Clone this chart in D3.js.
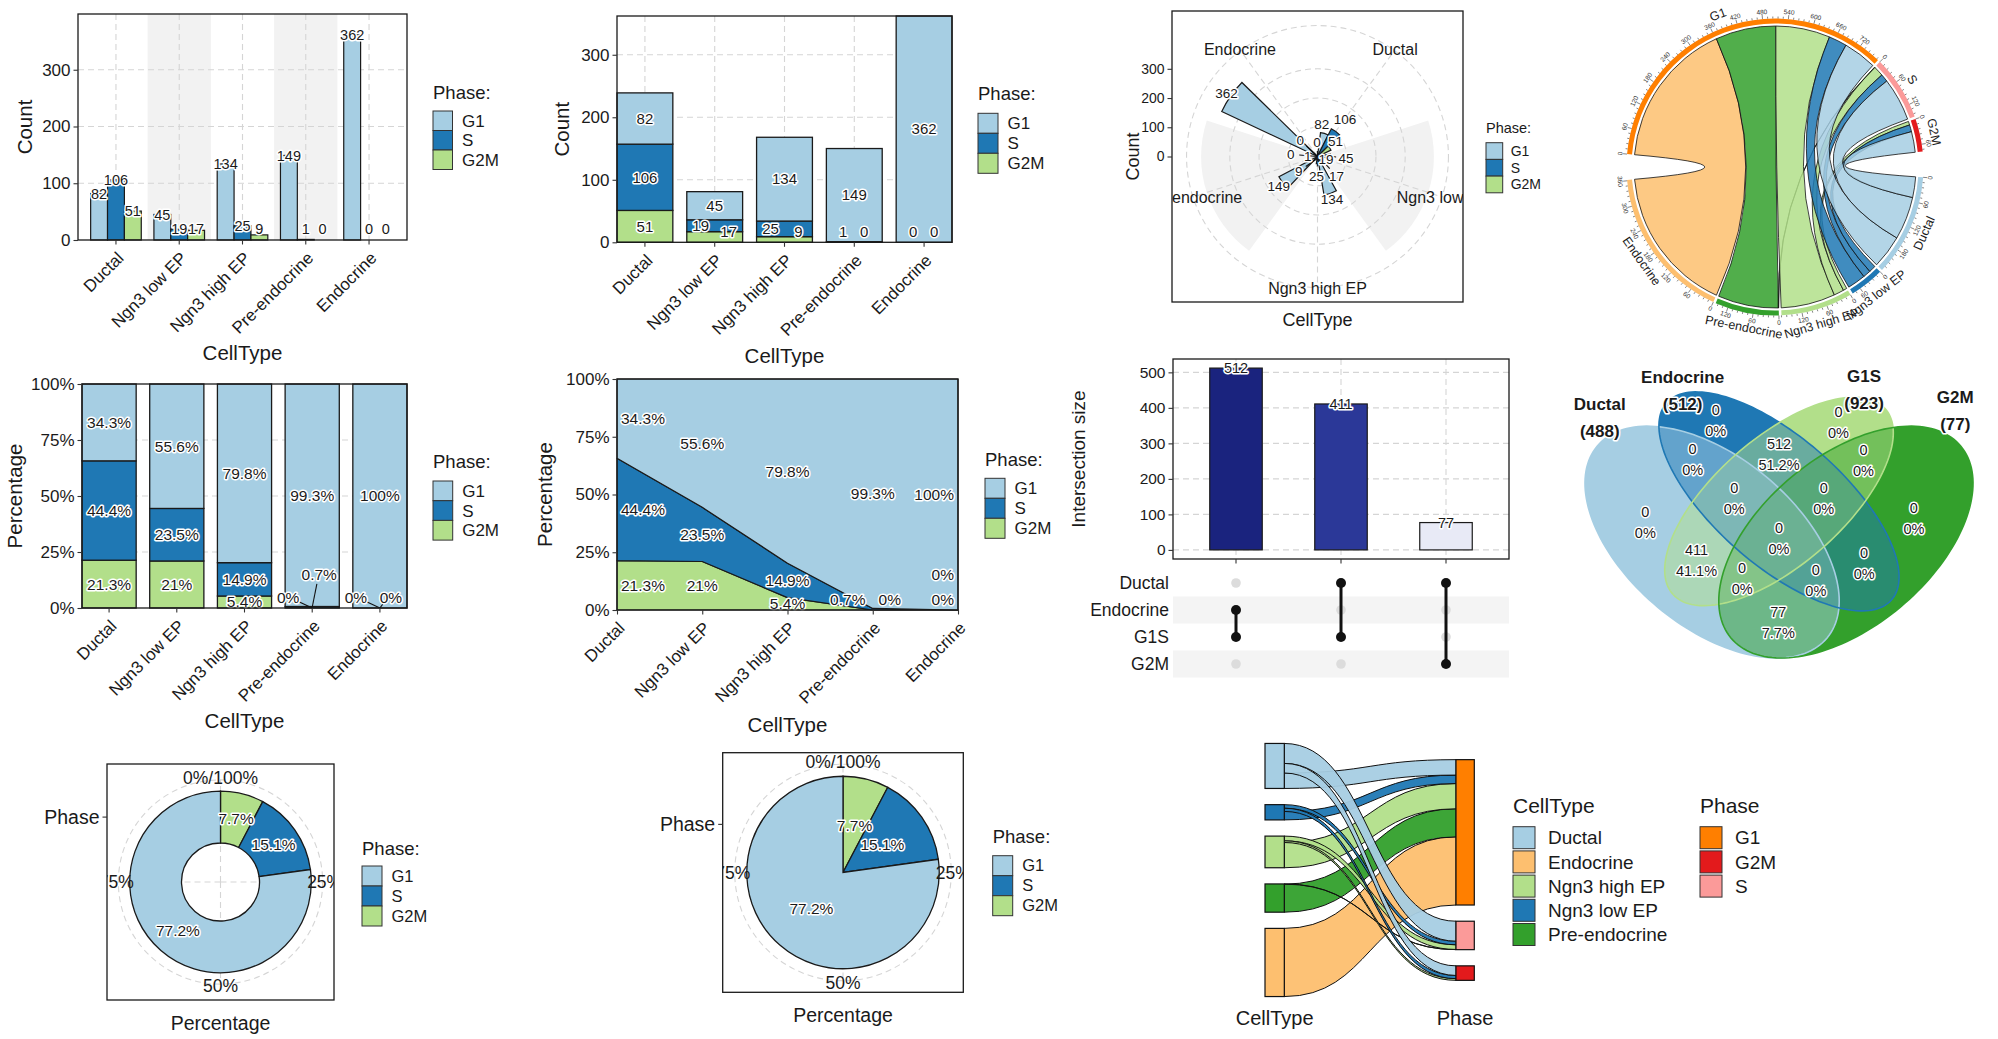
<!DOCTYPE html>
<html>
<head>
<meta charset="utf-8">
<script src="https://cdn.jsdelivr.net/npm/d3@7"></script>
<style>
html,body{margin:0;padding:0;background:#fff;}
svg{display:block;}
.grid{stroke:#d5d5d5;stroke-width:1.1;stroke-dasharray:6 4;fill:none;}
</style>
</head>
<body>
<svg id="chart" width="1998" height="1039" xmlns="http://www.w3.org/2000/svg"></svg>
<script>
// ======================= DATA =======================
const cellTypes = ["Ductal", "Ngn3 low EP", "Ngn3 high EP", "Pre-endocrine", "Endocrine"];
const phases = ["G1", "S", "G2M"];
const countG1 = [82, 45, 134, 149, 362];
const countS = [106, 19, 25, 1, 0];
const countG2M = [51, 17, 9, 0, 0];
const countTicks = [0, 100, 200, 300];
const percentTicks = [0, 25, 50, 75, 100];
const ringTickLabels = ["0%/100%", "25%", "50%", "75%"];

const upsetSets = ["Ductal", "Endocrine", "G1S", "G2M"];
const upsetSizes = [512, 411, 77];
const upsetMembers = [["Endocrine", "G1S"], ["Ductal", "G1S"], ["Ductal", "G2M"]];
const upsetTicks = [0, 100, 200, 300, 400, 500];

const vennSets = ["Ductal", "Endocrine", "G1S", "G2M"];
const vennRegionSets = ["Ductal", "Endocrine", "G1S", "G2M",
  "Ductal&Endocrine", "Ductal&G1S", "Ductal&G2M", "Endocrine&G1S", "Endocrine&G2M", "G1S&G2M",
  "Ductal&Endocrine&G1S", "Ductal&Endocrine&G2M", "Ductal&G1S&G2M", "Endocrine&G1S&G2M",
  "Ductal&Endocrine&G1S&G2M"];
const vennRegionCounts = [0, 0, 0, 0, 0, 411, 77, 512, 0, 0, 0, 0, 0, 0, 0];

const sankeyCellLegend = ["Ductal", "Endocrine", "Ngn3 high EP", "Ngn3 low EP", "Pre-endocrine"];
const sankeyPhaseLegend = ["G1", "G2M", "S"];

// colours
const phaseFill = ["#A6CEE3", "#1F78B4", "#B2DF8A"];           // G1, S, G2M
const cellColors = {"Ductal": "#A6CEE3", "Endocrine": "#FDBF6F", "Ngn3 high EP": "#B2DF8A",
                    "Ngn3 low EP": "#1F78B4", "Pre-endocrine": "#33A02C"};
const phaseColors = {"G1": "#FF7F00", "S": "#FB9A99", "G2M": "#E31A1C"};
const vennColors = ["#A6CEE3", "#1F78B4", "#B2DF8A", "#33A02C"];
const upsetRamp = ["#E8EAF6", "#3F51B5", "#1A237E"];

// ======================= HELPERS =======================
const byPhase = {G1: countG1, S: countS, G2M: countG2M};
const allCounts = countG1.concat(countS, countG2M);
const cellTot = cellTypes.map((c, i) => countG1[i] + countS[i] + countG2M[i]);
const phaseTot = phases.map(p => d3.sum(byPhase[p]));
const svg = d3.select("#chart");
const FONT = '"Liberation Sans", Arial, Helvetica, sans-serif';
const defs = svg.append("defs");

function fmtPct(f) {
  const r = Math.round(f * 1000) / 10;
  return (Number.isInteger(r) ? r : r.toFixed(1)) + "%";
}
function T(g, x, y, s, o = {}) {
  const t = g.append("text").attr("x", x).attr("y", y).text(s)
    .attr("font-family", FONT).attr("font-size", o.size || 17)
    .attr("fill", o.fill || "#1a1a1a").attr("text-anchor", o.anchor || "middle")
    .attr("dy", o.dy !== undefined ? o.dy : "0.35em");
  if (o.weight) t.attr("font-weight", o.weight);
  if (o.rotate) t.attr("transform", `rotate(${o.rotate},${x},${y})`);
  if (o.halo) t.attr("stroke", "#fff").attr("stroke-width", o.halo)
    .attr("stroke-linejoin", "round").attr("paint-order", "stroke");
  return t;
}
function gridLine(g, x1, y1, x2, y2) {
  return g.append("line").attr("x1", x1).attr("y1", y1).attr("x2", x2).attr("y2", y2).attr("class", "grid");
}
function frame(g, P) {
  g.append("rect").attr("x", P.x0).attr("y", P.y0).attr("width", P.x1 - P.x0).attr("height", P.y1 - P.y0)
    .attr("fill", "none").attr("stroke", "#1a1a1a").attr("stroke-width", 1.3);
}
function clipRect(id, P) {
  defs.append("clipPath").attr("id", id).append("rect").attr("x", P.x0).attr("y", P.y0)
    .attr("width", P.x1 - P.x0).attr("height", P.y1 - P.y0);
}
function axisLeft(g, scale, ticks, x, fmt, size) {
  const a = g.append("g").attr("transform", `translate(${x},0)`)
    .call(d3.axisLeft(scale).tickValues(ticks).tickSize(4.5).tickPadding(3).tickFormat(fmt || (d => d)));
  a.select(".domain").remove();
  a.selectAll(".tick line").attr("stroke", "#333").attr("stroke-width", 1.1);
  a.selectAll(".tick text").attr("font-family", FONT).attr("font-size", size || 17).attr("fill", "#1a1a1a");
  return a;
}
function axisBottomRot(g, scale, y, size) {
  const a = g.append("g").attr("transform", `translate(0,${y})`)
    .call(d3.axisBottom(scale).tickSize(4.5).tickFormat(""));
  a.select(".domain").remove();
  a.selectAll(".tick line").attr("stroke", "#333").attr("stroke-width", 1.1);
  scale.domain().forEach(d => {
    const px = scale.bandwidth ? scale(d) + scale.bandwidth() / 2 : scale(d);
    T(g, px, y + 10.5, d, {size: size || 17, anchor: "end", dy: "0.72em", rotate: -45});
  });
}
function legend(g, o) {
  const ks = o.key, fs = o.size || 17, ts = o.tsize || 18.5;
  T(g, o.x, o.base, o.title, {size: ts, anchor: "start", dy: 0});
  o.items.forEach((it, i) => {
    const yy = o.top + i * (ks + (o.gap || 0));
    g.append("rect").attr("x", o.x).attr("y", yy).attr("width", ks).attr("height", ks)
      .attr("fill", o.colors[i]).attr("stroke", "#333").attr("stroke-width", 1);
    T(g, o.x + ks + (o.lx || 9.5), yy + ks / 2, it, {size: fs, anchor: "start"});
  });
}

// ======================= PANEL 1 : dodged bars =======================
(function () {
  const P = {x0: 78, x1: 407, y0: 14, y1: 240};
  const g = svg.append("g");
  const x = d3.scaleBand().domain(cellTypes).range([P.x0, P.x1]).paddingInner(0).paddingOuter(0.1);
  const bw = x.bandwidth();
  const xi = d3.scaleBand().domain(phases).range([-0.4 * bw, 0.4 * bw]);
  const y = d3.scaleLinear().domain([0, d3.max(allCounts) * 1.1]).range([P.y1, P.y0]);
  cellTypes.forEach((c, i) => {
    if (i % 2 === 1) g.append("rect").attr("x", x(c)).attr("y", P.y0).attr("width", bw)
      .attr("height", P.y1 - P.y0).attr("fill", "#F2F2F2");
  });
  countTicks.slice(1).forEach(v => gridLine(g, P.x0, y(v), P.x1, y(v)));
  cellTypes.forEach(c => gridLine(g, x(c) + bw / 2, P.y0, x(c) + bw / 2, P.y1));
  cellTypes.forEach((c, i) => phases.forEach((p, j) => {
    const v = byPhase[p][i];
    g.append("rect").attr("x", x(c) + bw / 2 + xi(p)).attr("y", y(v)).attr("width", xi.bandwidth())
      .attr("height", y(0) - y(v)).attr("fill", phaseFill[j]).attr("stroke", "#1a1a1a").attr("stroke-width", 1.2);
  }));
  cellTypes.forEach((c, i) => phases.forEach(p => {
    const v = byPhase[p][i];
    T(g, x(c) + bw / 2 + xi(p) + xi.bandwidth() / 2, Math.min(y(v), P.y1 - 11), v, {size: 14.5, halo: 3});
  }));
  frame(g, P);
  axisLeft(g, y, countTicks, P.x0, null, 17);
  axisBottomRot(g, x, P.y1, 17);
  T(g, 25, (P.y0 + P.y1) / 2, "Count", {size: 20.5, rotate: -90});
  T(g, (P.x0 + P.x1) / 2, 353, "CellType", {size: 20.5});
  legend(g, {x: 433, title: "Phase:", base: 99, top: 111, key: 19.5, items: phases, colors: phaseFill});
})();

// ======================= PANEL 2 : stacked bars =======================
(function () {
  const P = {x0: 617, x1: 952, y0: 16, y1: 242.3};
  const g = svg.append("g");
  const x = d3.scaleBand().domain(cellTypes).range([P.x0, P.x1]).paddingInner(0.2).paddingOuter(0);
  const bw = x.bandwidth();
  const y = d3.scaleLinear().domain([0, d3.max(cellTot)]).range([P.y1, P.y0]);
  countTicks.slice(1).forEach(v => gridLine(g, P.x0, y(v), P.x1, y(v)));
  cellTypes.forEach(c => gridLine(g, x(c) + bw / 2, P.y0, x(c) + bw / 2, P.y1));
  const stackOrder = ["G2M", "S", "G1"];
  const labels = [];
  cellTypes.forEach((c, i) => {
    let cum = 0; const segs = [];
    stackOrder.forEach(p => {
      const v = byPhase[p][i];
      segs.push({p, v, y0: y(cum), y1: y(cum + v)});
      g.append("rect").attr("x", x(c)).attr("y", y(cum + v)).attr("width", bw).attr("height", y(cum) - y(cum + v))
        .attr("fill", phaseFill[phases.indexOf(p)]).attr("stroke", "#1a1a1a").attr("stroke-width", 1.3);
      cum += v;
    });
    const cx = x(c) + bw / 2;
    segs.slice().reverse().forEach(s => {
      const h = s.y0 - s.y1; let lx = cx, ly = (s.y0 + s.y1) / 2;
      if (h < 3) { lx = cx + (s.p === "S" ? -11 : 10); ly = P.y1 - 10.5; }
      else if (h < 16) { lx = cx + (s.p === "S" ? -14 : 14); ly = Math.min(ly, P.y1 - 10.5); }
      labels.push([lx, ly, s.v]);
    });
  });
  labels.forEach(l => T(g, l[0], l[1], l[2], {size: 15, halo: 3}));
  frame(g, P);
  axisLeft(g, y, countTicks, P.x0, null, 17);
  axisBottomRot(g, x, P.y1, 17);
  T(g, 562, (P.y0 + P.y1) / 2, "Count", {size: 20.5, rotate: -90});
  T(g, (P.x0 + P.x1) / 2, 356, "CellType", {size: 20.5});
  legend(g, {x: 978, title: "Phase:", base: 100, top: 113.3, key: 20, items: phases, colors: phaseFill});
})();

// ======================= PANEL 3 : polar (rose) =======================
(function () {
  const P = {x0: 1172, x1: 1463, y0: 11, y1: 302};
  const g = svg.append("g");
  const cx = (P.x0 + P.x1) / 2, cy = (P.y0 + P.y1) / 2, u = P.x1 - P.x0;
  const r = d3.scaleLinear().domain([0, d3.max(allCounts) * 1.1]).range([0, 0.4 * u]);
  const th = d3.scaleBand().domain(cellTypes).range([0, 2 * Math.PI]);
  const tb = th.bandwidth();
  const sub = d3.scaleBand().domain(phases).range([0.1 * tb, 0.9 * tb]);
  clipRect("clip3", P);
  const inner = g.append("g").attr("clip-path", "url(#clip3)");
  const c = inner.append("g").attr("transform", `translate(${cx},${cy})`);
  cellTypes.forEach((ct, i) => {
    if (i % 2 === 1) c.append("path").attr("d", d3.arc()({innerRadius: 0, outerRadius: 0.4 * u,
      startAngle: th(ct), endAngle: th(ct) + tb})).attr("fill", "#F2F2F2");
  });
  countTicks.slice(1).forEach(v => c.append("circle").attr("r", r(v)).attr("class", "grid"));
  c.append("circle").attr("r", 0.45 * u).attr("class", "grid");
  cellTypes.forEach(ct => {
    const a = th(ct) + tb / 2;
    gridLine(c, 0, 0, 0.45 * u * Math.sin(a), -0.45 * u * Math.cos(a));
  });
  const arc = d3.arc().innerRadius(0);
  cellTypes.forEach((ct, i) => phases.forEach((p, j) => {
    const v = byPhase[p][i]; if (!v) return;
    c.append("path").attr("d", arc({outerRadius: r(v), startAngle: th(ct) + sub(p),
      endAngle: th(ct) + sub(p) + sub.bandwidth()}))
      .attr("fill", phaseFill[j]).attr("stroke", "#1a1a1a").attr("stroke-width", 1.2);
  }));
  // repelled value labels (force layout)
  const lineG = c.append("g"), labG = c.append("g");
  const nodes = [];
  cellTypes.forEach((ct, i) => phases.forEach(p => {
    const v = byPhase[p][i];
    const a = th(ct) + sub(p) + sub.bandwidth() / 2;
    const tipR = r(v), rr = v ? tipR + 5 : 14;
    const t = T(labG, 0, 0, v, {size: 13.5, halo: 3});
    const w = t.node().getComputedTextLength();
    const tx = rr * Math.sin(a), ty = -rr * Math.cos(a);
    nodes.push({t, w, ax: tipR * Math.sin(a), ay: -tipR * Math.cos(a), tx, ty, x: tx, y: ty, rad: Math.max(w / 2 + 2.5, 8.5)});
  }));
  const sim = d3.forceSimulation(nodes)
    .force("x", d3.forceX(d => d.tx).strength(0.1))
    .force("y", d3.forceY(d => d.ty).strength(0.1))
    .force("collide", d3.forceCollide(d => d.rad).iterations(4))
    .stop();
  for (let k = 0; k < 400; k++) sim.tick();
  nodes.forEach(n => {
    const dx = n.x - n.ax, dy = n.y - n.ay, dist = Math.hypot(dx, dy);
    if (dist > n.rad + 2) {
      lineG.append("line").attr("x1", n.ax).attr("y1", n.ay)
        .attr("x2", n.x - dx / dist * n.rad).attr("y2", n.y - dy / dist * n.rad)
        .attr("stroke", "#111").attr("stroke-width", 1.1);
    }
    n.t.attr("x", n.x).attr("y", n.y);
  });
  cellTypes.forEach(ct => {
    const a = th(ct) + tb / 2, rr = 0.45 * u + 1;
    T(c, rr * Math.sin(a), -rr * Math.cos(a), ct, {size: 16});
  });
  frame(g, P);
  const ry = d3.scaleLinear().domain(r.domain()).range([cy, cy - 0.4 * u]);
  axisLeft(g, ry, countTicks, P.x0, null, 14);
  T(g, 1133, cy, "Count", {size: 18, rotate: -90});
  T(g, cx, 320, "CellType", {size: 18});
  legend(g, {x: 1486, title: "Phase:", base: 133, top: 142.7, key: 16.7, size: 14, tsize: 14.5, lx: 8,
    items: phases, colors: phaseFill});
})();

// ======================= PANEL 4 : chord =======================
(function () {
  const g = svg.append("g");
  const cx = 1775, cy = 167;
  const sectors = phases.map((p, j) => ({name: p, total: phaseTot[j], color: phaseColors[p]}))
    .concat(cellTypes.map((c, i) => ({name: c, total: cellTot[i], color: cellColors[c]})));
  const bigGap = 10, smallGap = 1;
  const grand = d3.sum(sectors, s => s.total);
  const dpu = (360 - 2 * bigGap - (sectors.length - 2) * smallGap) / grand;
  let a = 270 + bigGap / 2;
  sectors.forEach((s, i) => { s.a0 = a; s.a1 = a + s.total * dpu; a = s.a1 + (i === phases.length - 1 ? bigGap : smallGap); });
  const sec = Object.fromEntries(sectors.map(s => [s.name, s]));
  const rad = d => d * Math.PI / 180;
  const L = {};
  phases.forEach(p => {
    let cur = sec[p].a0;
    cellTypes.slice().reverse().forEach(c => {
      const v = byPhase[p][cellTypes.indexOf(c)];
      L[c + "|" + p] = {v, pa0: cur, pa1: cur + v * dpu}; cur += v * dpu;
    });
  });
  cellTypes.forEach((c, i) => {
    let cur = sec[c].a0;
    phases.slice().reverse().forEach(p => {
      const l = L[c + "|" + p]; l.ca0 = cur; l.ca1 = cur + l.v * dpu; cur += l.v * dpu;
    });
  });
  const cg = g.append("g").attr("transform", `translate(${cx},${cy})`);
  const ribbon = d3.ribbon().radius(141);
  cellTypes.slice().reverse().forEach(c => phases.forEach(p => {
    const l = L[c + "|" + p]; if (l.v <= 0) return;
    cg.append("path").attr("d", ribbon({source: {startAngle: rad(l.pa0), endAngle: rad(l.pa1)},
      target: {startAngle: rad(l.ca0), endAngle: rad(l.ca1)}}))
      .attr("fill", cellColors[c]).attr("fill-opacity", 0.85).attr("stroke", "#111").attr("stroke-width", 0.8);
  }));
  const ringArc = d3.arc().innerRadius(143.5).outerRadius(148.5);
  sectors.forEach(s => cg.append("path").attr("d", ringArc({startAngle: rad(s.a0), endAngle: rad(s.a1)})).attr("fill", s.color));
  const tang = deg => { const d = ((deg % 360) + 360) % 360; return (d > 90 && d < 270) ? d - 180 : (d >= 270 ? d - 360 : d); };
  const pt = (deg, rr) => [rr * Math.sin(rad(deg)), -rr * Math.cos(rad(deg))];
  sectors.forEach(s => {
    for (let v = 0; v <= s.total; v += 12) {
      const dg = s.a0 + v * dpu, major = v % 60 === 0;
      const p0 = pt(dg, 148.5), p1 = pt(dg, major ? 152.5 : 150.5);
      cg.append("line").attr("x1", p0[0]).attr("y1", p0[1]).attr("x2", p1[0]).attr("y2", p1[1])
        .attr("stroke", "#333").attr("stroke-width", 0.6);
      if (major) {
        const q = pt(dg, 155.5);
        T(cg, q[0], q[1], v, {size: 6.5, rotate: tang(dg), fill: "#333"});
      }
    }
    const m = (s.a0 + s.a1) / 2, q = pt(m, 163);
    T(cg, q[0], q[1], s.name, {size: 12.5, rotate: tang(m)});
  });
})();

// ======================= PANEL 5 : percentage bars =======================
(function () {
  const P = {x0: 82, x1: 407, y0: 384, y1: 608};
  const g = svg.append("g");
  const x = d3.scaleBand().domain(cellTypes).range([P.x0, P.x1]).paddingInner(0.2).paddingOuter(0);
  const bw = x.bandwidth();
  const y = d3.scaleLinear().domain([0, 100]).range([P.y1, P.y0]);
  percentTicks.slice(1, 4).forEach(v => gridLine(g, P.x0, y(v), P.x1, y(v)));
  cellTypes.forEach(c => gridLine(g, x(c) + bw / 2, P.y0, x(c) + bw / 2, P.y1));
  const stackOrder = ["G2M", "S", "G1"];
  const labels = [];
  cellTypes.forEach((c, i) => {
    let cum = 0; const segs = [];
    stackOrder.forEach(p => {
      const v = byPhase[p][i] / cellTot[i] * 100;
      segs.push({p, v, y0: y(cum), y1: y(cum + v)});
      g.append("rect").attr("x", x(c)).attr("y", y(cum + v)).attr("width", bw).attr("height", y(cum) - y(cum + v))
        .attr("fill", phaseFill[phases.indexOf(p)]).attr("stroke", "#1a1a1a").attr("stroke-width", 1.3);
      cum += v;
    });
    const cx = x(c) + bw / 2;
    let zeroSide = -1;
    segs.slice().reverse().forEach(s => {
      const h = s.y0 - s.y1; let lx = cx, ly = (s.y0 + s.y1) / 2;
      if (h < 3) {
        if (s.v > 0) { lx = cx + 7; ly = P.y1 - 33; }
        else { lx = cx + (zeroSide < 0 ? -24 : 11); zeroSide = 1; ly = P.y1 - 10; }
        labels.push([lx, ly, fmtPct(s.v / 100), cx, (s.y0 + s.y1) / 2]);
      } else labels.push([lx, ly, fmtPct(s.v / 100)]);
    });
  });
  labels.forEach(l => {
    if (l.length > 3) {
      const dx = l[3] - l[0], dy = l[4] - l[1], d = Math.hypot(dx, dy);
      if (d > 14) g.append("line").attr("x1", l[0] + dx / d * 11).attr("y1", l[1] + dy / d * 9).attr("x2", l[3]).attr("y2", l[4])
        .attr("stroke", "#111").attr("stroke-width", 1.1);
    }
  });
  labels.forEach(l => T(g, l[0], l[1], l[2], {size: 15.5, halo: 3}));
  frame(g, P);
  axisLeft(g, y, percentTicks, P.x0, d => d + "%", 17);
  axisBottomRot(g, x, P.y1, 17);
  T(g, 15, (P.y0 + P.y1) / 2, "Percentage", {size: 20.5, rotate: -90});
  T(g, (P.x0 + P.x1) / 2, 720.7, "CellType", {size: 20.5});
  legend(g, {x: 433, title: "Phase:", base: 468, top: 481, key: 19.7, items: phases, colors: phaseFill});
})();

// ======================= PANEL 6 : stacked area =======================
(function () {
  const P = {x0: 617, x1: 958, y0: 379, y1: 610};
  const g = svg.append("g");
  const x = d3.scalePoint().domain(cellTypes).range([P.x0, P.x1]).padding(0);
  const y = d3.scaleLinear().domain([0, 100]).range([P.y1, P.y0]);
  const pct = cellTypes.map((c, i) => ({c, G1: countG1[i] / cellTot[i] * 100, S: countS[i] / cellTot[i] * 100,
    G2M: countG2M[i] / cellTot[i] * 100}));
  const keys = ["G2M", "S", "G1"];
  const st = d3.stack().keys(keys)(pct);
  const area = d3.area().x(d => x(d.data.c)).y0(d => y(d[0])).y1(d => y(d[1]));
  st.forEach(layer => g.append("path").attr("d", area(layer)).attr("fill", phaseFill[phases.indexOf(layer.key)])
    .attr("stroke", "#1a1a1a").attr("stroke-width", 1.2).attr("stroke-linejoin", "round"));
  const placed = [];
  cellTypes.forEach((c, i) => {
    const px = x(c);
    keys.slice().reverse().forEach(k => {
      const layer = st[keys.indexOf(k)][i];
      const h = y(layer[0]) - y(layer[1]);
      const v = pct[i][k];
      const t = T(g, px, (y(layer[0]) + y(layer[1])) / 2, fmtPct(v / 100), {size: 15.5, halo: 3});
      const w = t.node().getComputedTextLength();
      let lx = px, ly = (y(layer[0]) + y(layer[1])) / 2;
      if (h < 3) { lx = px + (k === "S" ? -25 : 17); ly = P.y1 - 10; }
      lx = Math.max(P.x0 + w / 2 + 4, Math.min(P.x1 - w / 2 - 4, lx));
      if (h < 3) {
        const prev = placed.find(q => q.c === c && Math.abs(q.x - lx) < w);
        if (prev) { prev.t.attr("y", ly - 25).attr("x", lx); }
        placed.push({c, x: lx, t});
      }
      t.attr("x", lx).attr("y", ly);
    });
  });
  frame(g, P);
  axisLeft(g, y, percentTicks, P.x0, d => d + "%", 17);
  axisBottomRot(g, x, P.y1, 17);
  T(g, 545, (P.y0 + P.y1) / 2, "Percentage", {size: 20.5, rotate: -90});
  T(g, (P.x0 + P.x1) / 2, 725, "CellType", {size: 20.5});
  legend(g, {x: 985, title: "Phase:", base: 465.5, top: 478.3, key: 20, items: phases, colors: phaseFill});
})();

// ======================= PANEL 7 : UpSet =======================
(function () {
  const P = {x0: 1173, x1: 1509, y0: 359, y1: 559};
  const g = svg.append("g");
  const mx = d3.max(upsetSizes), mn = d3.min(upsetSizes);
  const y = d3.scaleLinear().domain([-0.05 * mx, 1.05 * mx]).range([P.y1, P.y0]);
  const x = d3.scaleBand().domain(d3.range(upsetSizes.length)).range([P.x0, P.x1]).paddingInner(0).paddingOuter(0.1);
  const bw = x.bandwidth();
  upsetTicks.forEach(v => gridLine(g, P.x0, y(v), P.x1, y(v)));
  x.domain().forEach(i => gridLine(g, x(i) + bw / 2, P.y0, x(i) + bw / 2, P.y1));
  const ramp = d3.piecewise(d3.interpolateRgb, upsetRamp);
  upsetSizes.forEach((v, i) => {
    g.append("rect").attr("x", x(i) + bw * 0.25).attr("y", y(v)).attr("width", bw * 0.5).attr("height", y(0) - y(v))
      .attr("fill", ramp((v - mn) / (mx - mn))).attr("stroke", "#1a1a1a").attr("stroke-width", 1.2);
  });
  upsetSizes.forEach((v, i) => T(g, x(i) + bw / 2, y(v), v, {size: 14.5, halo: 3}));
  frame(g, P);
  axisLeft(g, y, upsetTicks, P.x0, null, 15.5);
  const xb = g.append("g").attr("transform", `translate(0,${P.y1})`).call(d3.axisBottom(x).tickSize(4.5).tickFormat(""));
  xb.select(".domain").remove();
  xb.selectAll(".tick line").attr("stroke", "#333").attr("stroke-width", 1.1);
  T(g, 1078, (P.y0 + P.y1) / 2, "Intersection size", {size: 19, rotate: -90});
  const rowY = d3.scalePoint().domain(upsetSets).range([583, 664]);
  const rowH = rowY.step();
  upsetSets.forEach((s, k) => {
    if (k % 2 === 1) g.append("rect").attr("x", P.x0).attr("y", rowY(s) - rowH / 2).attr("width", P.x1 - P.x0)
      .attr("height", rowH).attr("fill", "#F4F4F4");
    T(g, 1169, rowY(s), s, {size: 17.5, anchor: "end"});
  });
  upsetSizes.forEach((v, i) => {
    const cx = x(i) + bw / 2, mem = upsetMembers[i];
    upsetSets.forEach(s => { if (!mem.includes(s)) g.append("circle").attr("cx", cx).attr("cy", rowY(s)).attr("r", 4.8).attr("fill", "#DCDCDC"); });
    const ys = mem.map(s => rowY(s));
    g.append("line").attr("x1", cx).attr("x2", cx).attr("y1", d3.min(ys)).attr("y2", d3.max(ys)).attr("stroke", "#111").attr("stroke-width", 3);
    mem.forEach(s => g.append("circle").attr("cx", cx).attr("cy", rowY(s)).attr("r", 5).attr("fill", "#111"));
  });
})();

// ======================= PANEL 8 : Venn =======================
(function () {
  const g = svg.append("g");
  const shapes = [ // unit-space ellipse layout (4-set Venn) + label nudges
    {cx: 0.35, cy: 0.47, a: 0.35, b: 0.20, rot: 135, lx: -2, ly: -10},
    {cx: 0.50, cy: 0.57, a: 0.35, b: 0.15, rot: 135, lx: 14, ly: 3},
    {cx: 0.50, cy: 0.57, a: 0.33, b: 0.15, rot: 45, lx: -19, ly: -3},
    {cx: 0.65, cy: 0.47, a: 0.35, b: 0.20, rot: 45, lx: -1, ly: -17}];
  const vx = d3.scaleLinear().domain([0.065, 0.935]).range([1585, 1973]);
  const vy = d3.scaleLinear().domain([0.185, 0.839]).range([658, 392]);
  function ePts(s) {
    const R = s.rot * Math.PI / 180;
    return d3.range(0, 160).map(k => {
      const t = k / 160 * 2 * Math.PI;
      const ux = s.cx + s.a * Math.cos(t) * Math.cos(R) - s.b * Math.sin(t) * Math.sin(R);
      const uy = s.cy + s.a * Math.cos(t) * Math.sin(R) + s.b * Math.sin(t) * Math.cos(R);
      return [vx(ux), vy(uy)];
    });
  }
  const ePath = s => d3.line().curve(d3.curveLinearClosed)(ePts(s));
  function inside(s, ux, uy) {
    const R = s.rot * Math.PI / 180, dx = ux - s.cx, dy = uy - s.cy;
    const u = dx * Math.cos(R) + dy * Math.sin(R), v = -dx * Math.sin(R) + dy * Math.cos(R);
    return (u * u) / (s.a * s.a) + (v * v) / (s.b * s.b) <= 1;
  }
  function blend(cols) {
    const rgb = cols.map(c => d3.rgb(c));
    return d3.rgb(d3.mean(rgb, c => c.r), d3.mean(rgb, c => c.g), d3.mean(rgb, c => c.b)).formatHex();
  }
  shapes.forEach((s, i) => defs.append("clipPath").attr("id", "vc" + i).append("path").attr("d", ePath(s)));
  vennRegionSets.forEach((key, ri) => {
    const mem = key.split("&").map(m => vennSets.indexOf(m));
    const non = d3.range(4).filter(i => !mem.includes(i));
    const m = defs.append("mask").attr("id", "vm" + ri).attr("maskUnits", "userSpaceOnUse")
      .attr("x", 1540).attr("y", 340).attr("width", 458).attr("height", 340);
    m.append("rect").attr("x", 1540).attr("y", 340).attr("width", 458).attr("height", 340).attr("fill", "#fff");
    non.forEach(i => m.append("path").attr("d", ePath(shapes[i])).attr("fill", "#000"));
    let gg = g.append("g").attr("mask", `url(#vm${ri})`);
    mem.slice(1).forEach(i => { gg = gg.append("g").attr("clip-path", `url(#vc${i})`); });
    gg.append("path").attr("d", ePath(shapes[mem[0]])).attr("fill", blend(mem.map(i => vennColors[i])));
  });
  shapes.forEach((s, i) => g.append("path").attr("d", ePath(s)).attr("fill", "none")
    .attr("stroke", vennColors[i]).attr("stroke-width", 1.6));
  const acc = {};
  for (let px = 1580; px <= 1980; px += 2) for (let py = 385; py <= 665; py += 2) {
    const ux = vx.invert(px), uy = vy.invert(py);
    const mem = vennSets.filter((s, i) => inside(shapes[i], ux, uy));
    if (!mem.length) continue;
    const k = mem.join("&");
    if (!acc[k]) acc[k] = {x: 0, y: 0, n: 0};
    acc[k].x += px; acc[k].y += py; acc[k].n++;
  }
  const total = d3.sum(vennRegionCounts);
  vennRegionSets.forEach((k, ri) => {
    const a = acc[k]; if (!a) return;
    const lx = a.x / a.n, ly = a.y / a.n, v = vennRegionCounts[ri];
    T(g, lx, ly - 10, v, {size: 14.5, halo: 3});
    T(g, lx, ly + 11, fmtPct(v / total), {size: 14.5, halo: 3});
  });
  const setSize = vennSets.map(s => d3.sum(vennRegionSets.map((k, ri) => k.split("&").includes(s) ? vennRegionCounts[ri] : 0)));
  shapes.forEach((s, i) => {
    const tip = ePts(s)[0];
    T(g, tip[0] + s.lx, tip[1] + s.ly - 27, vennSets[i], {size: 17, weight: "bold", halo: 3});
    T(g, tip[0] + s.lx, tip[1] + s.ly, "(" + setSize[i] + ")", {size: 17, weight: "bold", halo: 3});
  });
})();

// ======================= PANELS 9/10 : donut & pie =======================
function drawRing(P, innerPx, lg, clipId) {
  const g = svg.append("g");
  const u = P.x1 - P.x0, cx = (P.x0 + P.x1) / 2, cy = (P.y0 + P.y1) / 2;
  const rOut = 0.4 * u, rIn = innerPx, rMid = (rOut + rIn) / 2;
  const total = d3.sum(phaseTot);
  const th = d3.scaleLinear().domain([0, total]).range([0, 2 * Math.PI]);
  clipRect(clipId, P);
  const c = g.append("g").attr("clip-path", `url(#${clipId})`).append("g").attr("transform", `translate(${cx},${cy})`);
  c.append("circle").attr("r", 0.45 * u).attr("class", "grid");
  [0, 0.25, 0.5, 0.75].forEach(f => {
    const a = f * 2 * Math.PI; gridLine(c, 0, 0, 0.45 * u * Math.sin(a), -0.45 * u * Math.cos(a));
  });
  let cum = 0;
  phases.slice().reverse().forEach(p => {
    const j = phases.indexOf(p), v = phaseTot[j];
    c.append("path").attr("d", d3.arc()({innerRadius: rIn, outerRadius: rOut, startAngle: th(cum), endAngle: th(cum + v)}))
      .attr("fill", phaseFill[j]).attr("stroke", "#1a1a1a").attr("stroke-width", 1.3);
    cum += v;
  });
  cum = 0;
  phases.slice().reverse().forEach(p => {
    const j = phases.indexOf(p), v = phaseTot[j], am = th(cum + v / 2);
    T(c, rMid * Math.sin(am), -rMid * Math.cos(am), fmtPct(v / total), {size: 15.5, halo: 3});
    cum += v;
  });
  ringTickLabels.forEach((l, k) => {
    const a = k * Math.PI / 2, rr = 0.45 * u + 2;
    T(c, rr * Math.sin(a), -rr * Math.cos(a), l, {size: 17.5});
  });
  frame(g, P);
  g.append("line").attr("x1", P.x0 - 4.5).attr("x2", P.x0).attr("y1", cy - rMid).attr("y2", cy - rMid)
    .attr("stroke", "#333").attr("stroke-width", 1.1);
  T(g, P.x0 - 7.5, cy - rMid, "Phase", {size: 19.5, anchor: "end"});
  T(g, cx, P.y1 + 23, "Percentage", {size: 19.5});
  legend(g, Object.assign({title: "Phase:", key: 20, items: phases, colors: phaseFill, size: 16.5}, lg));
}
drawRing({x0: 107, x1: 334, y0: 764, y1: 1000}, 39, {x: 362, base: 854.5, top: 866}, "clip9");
drawRing({x0: 722.7, x1: 963.3, y0: 752.7, y1: 992.3}, 0, {x: 992.7, base: 843, top: 855.7}, "clip10");

// ======================= PANEL 11 : Sankey / alluvial =======================
(function () {
  const g = svg.append("g");
  const k = 0.1883, gap = 16.2, midY = 870;
  const xl0 = 1265, xl1 = 1284.3, xr0 = 1456, xr1 = 1474.3;
  let yy = midY - (d3.sum(cellTot) * k + gap * (cellTypes.length - 1)) / 2;
  const leftY = {};
  cellTypes.forEach((c, i) => { leftY[c] = yy; yy += cellTot[i] * k + gap; });
  yy = midY - (d3.sum(phaseTot) * k + gap * (phases.length - 1)) / 2;
  const rightY = {};
  phases.forEach((p, j) => { rightY[p] = yy; yy += phaseTot[j] * k + gap; });
  const leftOrder = ["S", "G2M", "G1"];
  const links = [];
  cellTypes.forEach((c, i) => {
    let y0 = leftY[c];
    leftOrder.forEach(p => { const v = byPhase[p][i]; links.push({c, p, v, ly0: y0, ly1: y0 + v * k}); y0 += v * k; });
  });
  phases.forEach(p => {
    let y0 = rightY[p];
    cellTypes.forEach(c => { const l = links.find(q => q.c === c && q.p === p); l.ry0 = y0; l.ry1 = y0 + l.v * k; y0 += l.v * k; });
  });
  const xm = (xl1 + xr0) / 2;
  cellTypes.slice().reverse().forEach(c => phases.forEach(p => {
    const l = links.find(q => q.c === c && q.p === p); if (l.v <= 0) return;
    const pth = d3.path();
    pth.moveTo(xl1, l.ly0); pth.bezierCurveTo(xm, l.ly0, xm, l.ry0, xr0, l.ry0);
    pth.lineTo(xr0, l.ry1); pth.bezierCurveTo(xm, l.ry1, xm, l.ly1, xl1, l.ly1); pth.closePath();
    g.append("path").attr("d", pth.toString()).attr("fill", cellColors[c]).attr("fill-opacity", 0.95)
      .attr("stroke", "#111").attr("stroke-width", 1);
  }));
  cellTypes.forEach((c, i) => g.append("rect").attr("x", xl0).attr("y", leftY[c]).attr("width", xl1 - xl0)
    .attr("height", cellTot[i] * k).attr("fill", cellColors[c]).attr("stroke", "#111").attr("stroke-width", 1.2));
  phases.forEach((p, j) => g.append("rect").attr("x", xr0).attr("y", rightY[p]).attr("width", xr1 - xr0)
    .attr("height", phaseTot[j] * k).attr("fill", phaseColors[p]).attr("stroke", "#111").attr("stroke-width", 1.2));
  T(g, (xl0 + xl1) / 2, 1018, "CellType", {size: 20});
  T(g, (xr0 + xr1) / 2, 1018, "Phase", {size: 20});
  legend(g, {x: 1513, title: "CellType", base: 813, top: 826.7, key: 22, gap: 2.2, size: 19, tsize: 21, lx: 13,
    items: sankeyCellLegend, colors: sankeyCellLegend.map(c => cellColors[c])});
  legend(g, {x: 1700, title: "Phase", base: 813, top: 826.7, key: 22, gap: 2.2, size: 19, tsize: 21, lx: 13,
    items: sankeyPhaseLegend, colors: sankeyPhaseLegend.map(p => phaseColors[p])});
})();
</script>
</body>
</html>
